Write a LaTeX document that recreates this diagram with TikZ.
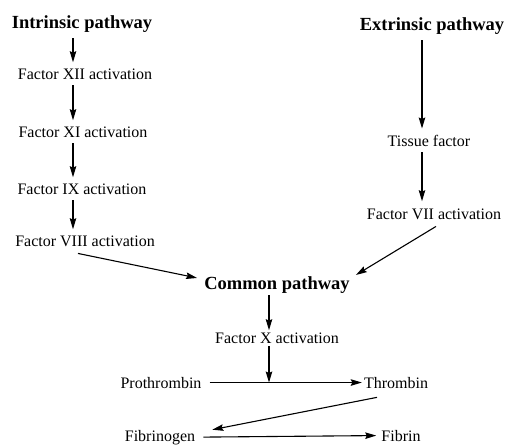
\documentclass[tikz,border=0pt]{standalone}
\usepackage{fontspec}
\setmainfont{Liberation Serif}
\usepackage{tikz}
\usetikzlibrary{arrows.meta}

\begin{document}
\begin{tikzpicture}[x=1pt,y=-1pt,
lbl/.style={anchor=base,inner sep=0pt,font=\fontsize{16}{19}\selectfont},
hdr/.style={anchor=base,inner sep=0pt,font=\bfseries\fontsize{18.5}{22}\selectfont},
arr/.style={-{Stealth[length=11pt,width=6.5pt,inset=1.5pt]},line width=1.1pt},
vert/.style={arr,shorten <=5pt,shorten >=7pt}]
\useasboundingbox (0,0) rectangle (508,446);
% left column
\node[hdr] (ip) at (82,29) {Intrinsic pathway};
\node[lbl] (f12) at (85,80) {Factor XII activation};
\node[lbl] (f11) at (83,138) {Factor XI activation};
\node[lbl] (f9) at (82,195) {Factor IX activation};
\node[lbl] (f8) at (85,247) {Factor VIII activation};
% right column
\node[hdr] (ep) at (432,31) {Extrinsic pathway};
\node[lbl] (tf) at (429,147) {Tissue factor};
\node[lbl] (f7) at (434,219) {Factor VII activation};
% common part
\node[hdr] (cp) at (277,289) {Common pathway};
\node[lbl] (fx) at (277,343) {Factor X activation};
\node[lbl] (pro) at (161,388) {Prothrombin};
\node[lbl] (thr) at (396,388) {Thrombin};
\node[lbl] (fbg) at (160,441) {Fibrinogen};
\node[lbl] (fbn) at (401,441) {Fibrin};
\coordinate (colL) at (73,0);
\coordinate (colR) at (422,0);
\coordinate (colM) at (269,0);
\coordinate (jn) at (colM |- pro.east);
\foreach \a/\b in %
{ip/f12,f12/f11,f11/f9,f9/f8} {
   \draw[vert] (colL |- \a.south) -- (colL |- \b.north);
}
\foreach \a/\b in %
{ep/tf,tf/f7} {
   \draw[vert] (colR |- \a.south) -- (colR |- \b.north);
}
\draw[arr] ([shift={(-7pt,-6pt)}]f8.south) -- ([shift={(-7pt,-2pt)}]cp.north west);
\draw[arr] ([shift={(2pt,-7pt)}]f7.south) -- ([shift={(6pt,1pt)}]cp.north east);
\draw[arr,shorten <=2pt,shorten >=2pt] (colM |- cp.south) -- (colM |- fx.north);
\draw[arr,shorten <=3pt] (colM |- fx.south) -- (jn);
\draw[arr,shorten <=8pt,shorten >=2pt] (pro.east) -- (thr.west);
\draw[arr] ([shift={(-19pt,-9pt)}]thr.south) -- ([xshift=17pt]fbg.north east);
\draw[arr,shorten <=8pt,shorten >=5pt] (fbg.east) -- (fbn.west);
\end{tikzpicture}
\end{document}
